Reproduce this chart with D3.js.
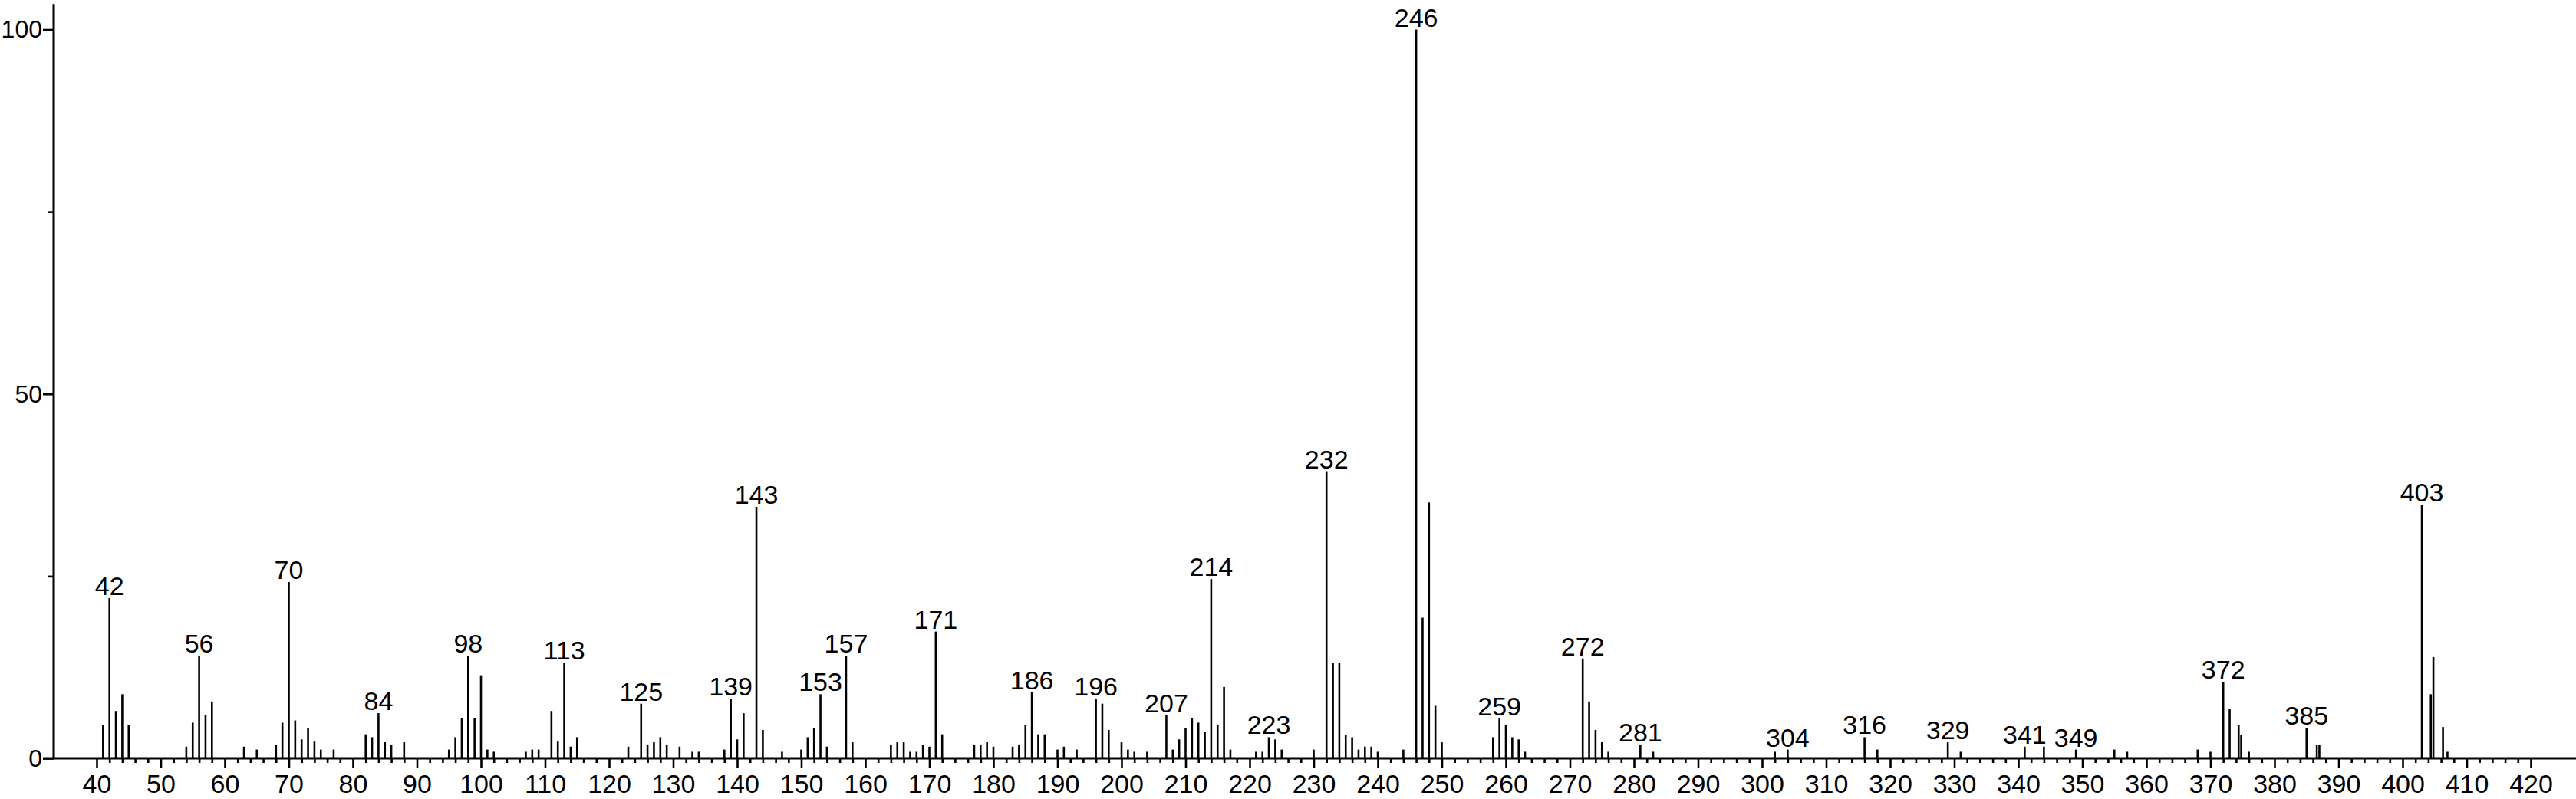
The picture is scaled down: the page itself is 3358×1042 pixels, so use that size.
<!DOCTYPE html>
<html>
<head>
<meta charset="utf-8">
<script src="https://cdn.jsdelivr.net/npm/d3@7"></script>
<style>
  body { margin: 0; background: #fff; }
  svg { display: block; font-family: "Liberation Sans", Arial, sans-serif; }
</style>
</head>
<body>
<div id="chart"></div>
<script>
// m/z of each peak and its relative intensity (%)
const mz = [
  41, 42, 43, 44, 45, 54, 55, 56, 57, 58, 63, 65, 68, 69, 70, 71, 72, 73, 74, 75, 77,
  82, 83, 84, 85, 86, 88, 95, 96, 97, 98, 99, 100, 101, 102, 107, 108, 109, 111, 112,
  113, 114, 115, 123, 125, 126, 127, 128, 129, 131, 133, 134, 138, 139, 140, 141, 143,
  144, 147, 150, 151, 152, 153, 154, 157, 158, 164, 165, 166, 167, 168, 169, 170, 171,
  172, 177, 178, 179, 180, 183, 184, 185, 186, 187, 188, 190, 191, 193, 196, 197, 198,
  200, 201, 202, 204, 207, 208, 209, 210, 211, 212, 213, 214, 215, 216, 217, 221, 222,
  223, 224, 225, 230, 232, 233, 234, 235, 236, 237, 238, 239, 240, 244, 246, 247, 248,
  249, 250, 258, 259, 260, 261, 262, 263, 272, 273, 274, 275, 276, 281, 283, 302, 304,
  316, 318, 329, 331, 341, 344, 349, 355, 357, 368, 370, 372, 373, 374.4, 374.8, 376,
  385, 386.6, 387, 403, 404.4, 404.8, 406.3, 407
];
const intensity = [
  4.6, 22.0, 6.5, 8.8, 4.6, 1.6, 4.9, 14.1, 5.9, 7.8, 1.6, 1.2, 1.9, 4.9, 24.2, 5.2, 2.6, 4.2, 2.3, 1.2, 1.2,
  3.3, 2.9, 6.2, 2.2, 1.9, 2.2, 1.2, 2.9, 5.5, 14.1, 5.5, 11.4, 1.2, 0.9, 0.9, 1.2, 1.2, 6.5, 2.3,
  13.1, 1.6, 2.9, 1.6, 7.5, 1.9, 2.2, 2.9, 1.9, 1.6, 0.9, 0.9, 1.2, 8.2, 2.6, 6.2, 34.5,
  3.9, 0.9, 1.2, 2.9, 4.2, 8.8, 1.6, 14.1, 2.2, 1.9, 2.2, 2.2, 0.9, 0.9, 1.9, 1.6, 17.4,
  3.3, 1.9, 1.9, 2.2, 1.6, 1.6, 1.9, 4.6, 9.1, 3.3, 3.3, 1.2, 1.6, 1.2, 8.2, 7.5, 3.9,
  2.2, 1.2, 0.9, 0.9, 5.9, 1.2, 2.6, 4.2, 5.5, 4.9, 3.6, 24.6, 4.6, 9.8, 1.2, 0.9, 0.9,
  2.9, 2.6, 1.2, 1.2, 39.4, 13.1, 13.1, 3.2, 2.9, 1.2, 1.6, 1.6, 0.9, 1.2, 100, 19.3, 35.1,
  7.2, 2.2, 2.9, 5.5, 4.6, 2.9, 2.6, 0.9, 13.7, 7.8, 3.9, 2.2, 0.9, 1.9, 0.9, 0.9, 1.2,
  2.9, 1.2, 2.2, 0.9, 1.6, 1.6, 1.2, 1.2, 0.9, 1.2, 0.9, 10.5, 6.8, 4.6, 3.2, 0.9,
  4.2, 1.9, 1.9, 34.8, 8.8, 13.9, 4.3, 0.9
];
// peaks that carry an m/z label
const labeledPeaks = [42, 56, 70, 84, 98, 113, 125, 139, 143, 153, 157, 171, 186, 196, 207,
  214, 223, 232, 246, 259, 272, 281, 304, 316, 329, 341, 349, 372, 385, 403];

const xTicks = d3.range(40, 421, 2);
const yTicks = [0, 25, 50, 75, 100];

const width = 3358, height = 1042;
const fontSize = "34px";

const svg = d3.select("#chart")
  .append("svg")
  .attr("width", width)
  .attr("height", height);

const x = d3.scaleLinear().domain([40, 420]).range([126, 3299]);
const y = d3.scaleLinear().domain([0, 100]).range([989, 38.5]);
const axisX0 = 70;

const peaks = mz.map((m, i) => ({ m: m, v: intensity[i] }));

// peaks
svg.append("g")
  .selectAll("line")
  .data(peaks)
  .join("line")
  .attr("x1", d => x(d.m))
  .attr("x2", d => x(d.m))
  .attr("y1", y(0))
  .attr("y2", d => y(d.v))
  .attr("stroke", "#000")
  .attr("stroke-width", 2.6);

// peak labels
svg.append("g")
  .selectAll("text")
  .data(peaks.filter(d => labeledPeaks.includes(d.m)))
  .join("text")
  .attr("x", d => x(d.m))
  .attr("y", d => y(d.v) - 4)
  .attr("text-anchor", "middle")
  .style("font-size", fontSize)
  .text(d => d.m);

// x axis
const gx = svg.append("g")
  .attr("transform", `translate(0,${y(0)})`)
  .call(d3.axisBottom(x)
    .tickValues(xTicks)
    .tickSize(12)
    .tickFormat(d => d % 10 === 0 ? d : ""));
gx.select(".domain").remove();
gx.selectAll(".tick line")
  .attr("y2", d => d % 10 === 0 ? 12 : 6)
  .attr("stroke", "#000")
  .attr("stroke-width", 2.6);
gx.selectAll(".tick text")
  .attr("y", 21)
  .attr("fill", "#000")
  .style("font-size", fontSize)
  .style("font-family", "\"Liberation Sans\", Arial, sans-serif");
svg.append("line")
  .attr("x1", axisX0 - 14)
  .attr("x2", width)
  .attr("y1", y(0))
  .attr("y2", y(0))
  .attr("stroke", "#000")
  .attr("stroke-width", 3);

// y axis
const gy = svg.append("g")
  .attr("transform", `translate(${axisX0},0)`)
  .call(d3.axisLeft(y)
    .tickValues(yTicks)
    .tickSize(14)
    .tickFormat(d => d % 50 === 0 ? d : ""));
gy.select(".domain").remove();
gy.selectAll(".tick line")
  .attr("x2", d => d % 50 === 0 ? -14 : -7)
  .attr("stroke", "#000")
  .attr("stroke-width", 2.6);
gy.selectAll(".tick text")
  .attr("x", -15)
  .attr("fill", "#000")
  .style("font-size", "32px")
  .style("font-family", "\"Liberation Sans\", Arial, sans-serif");
svg.append("line")
  .attr("x1", axisX0)
  .attr("x2", axisX0)
  .attr("y1", y(0))
  .attr("y2", y(103.5))
  .attr("stroke", "#000")
  .attr("stroke-width", 3);
</script>
</body>
</html>
